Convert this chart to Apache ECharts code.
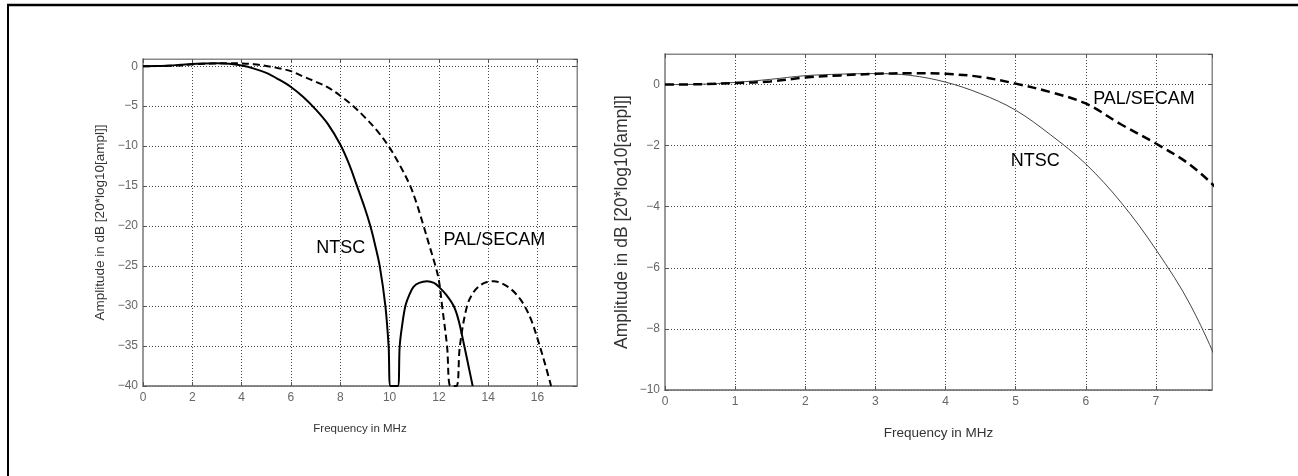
<!DOCTYPE html>
<html>
<head>
<meta charset="utf-8">
<script src="https://cdn.jsdelivr.net/npm/echarts@6/dist/echarts.min.js"></script>
<style>
  html, body { margin: 0; padding: 0; background: #fff; }
  #chart { width: 1298px; height: 476px; }
</style>
</head>
<body>
<div id="chart"></div>
<script>
// NTSC response (MHz, dB)
const freqNtsc = [0, 0.5, 1, 1.5, 2, 2.5, 3, 3.5, 4, 4.5, 5, 5.5, 6, 6.5, 7, 7.5, 8, 8.35, 8.68, 9,
  9.22, 9.4, 9.6, 9.83, 9.96, 10.04, 10.33, 10.41, 10.5, 10.64, 10.8, 10.97, 11.2, 11.52, 11.8,
  12, 12.3, 12.6, 12.8, 13.03, 13.2, 13.37];
const dbNtsc = [0, 0.01, 0.07, 0.17, 0.29, 0.34, 0.36, 0.3, 0.08, -0.3, -0.84, -1.65, -2.6, -3.85, -5.4, -7.25, -9.8, -12.2, -15, -17.8,
  -20, -22.2, -25, -30, -35, -40, -40, -35, -32.6, -30, -28.6, -27.6, -27.1, -26.9, -27.1,
  -27.6, -28.6, -30, -31.8, -35, -37.5, -40];

// PAL/SECAM response
const freqPal = [0, 0.5, 1, 1.5, 2, 2.5, 3, 3.5, 4, 4.5, 5, 5.5, 6, 6.5, 7, 7.5, 8,
  8.53, 9, 9.5, 9.96, 10.4, 10.84, 11.1, 11.38, 11.62, 11.86, 12, 12.13, 12.33, 12.47,
  12.71, 12.85, 13.14, 13.4, 13.68, 13.95, 14.22, 14.5, 14.8, 15.1, 15.44, 15.75, 16.05, 16.3, 16.55];
const dbPal = [0, 0.01, 0.05, 0.1, 0.23, 0.3, 0.35, 0.37, 0.35, 0.25, 0.03, -0.25, -0.62, -1.3, -1.93, -2.65, -3.7,
  -5, -6.4, -8.1, -10, -12.3, -15, -17.2, -20, -22.5, -25, -26.8, -30, -35, -40,
  -40, -35, -30, -28.3, -27.4, -27, -26.9, -27.1, -27.6, -28.4, -29.8, -31.8, -34.6, -37.2, -40];

// label anchors in data units [x, y]
const labelsLeft = { ntsc: [8.02, -22.75], pal: [14.25, -21.75] };
const labelsRight = { ntsc: [5.28, -2.49], pal: [6.83, -0.49] };

const zip = (xs, ys) => xs.map((x, i) => [x, ys[i]]);
const minus = (v) => String(v).replace('-', '\u2212');
const FONT = 'Liberation Sans';

const mainX = (grid, max, interval, nameSize, nameGap) => ({
  gridIndex: grid, type: 'value', position: 'bottom', min: 0, max, interval,
  name: 'Frequency in MHz', nameLocation: 'middle', nameGap,
  nameTextStyle: { fontFamily: FONT, fontSize: nameSize, color: '#333' },
  axisLine: { onZero: false, lineStyle: { color: '#777', width: 1.5 } },
  axisTick: { inside: true, length: 4, lineStyle: { color: '#555' } },
  axisLabel: { fontFamily: FONT, fontSize: 12, color: '#666', margin: 6, showMaxLabel: false, formatter: minus },
  splitLine: { show: true, lineStyle: { color: '#444', width: 1, type: [1, 2] } }
});
const mainY = (grid, min, max, interval, nameSize, nameGap) => ({
  gridIndex: grid, type: 'value', position: 'left', min, max, interval,
  name: 'Amplitude in dB [20*log10[ampl]]', nameLocation: 'middle', nameGap,
  nameTextStyle: { fontFamily: FONT, fontSize: nameSize, color: '#333' },
  axisLine: { onZero: false, lineStyle: { color: '#999', width: 2 } },
  axisTick: { inside: true, length: 4, lineStyle: { color: '#555' } },
  axisLabel: { fontFamily: FONT, fontSize: 12, color: '#666', margin: 5, showMaxLabel: false, formatter: minus },
  splitLine: { show: true, lineStyle: { color: '#444', width: 1, type: [1, 2] } }
});
// top / right axes only for the inward ticks
const sideAxis = (grid, position, min, max, interval) => ({
  gridIndex: grid, type: 'value', position, min, max, interval,
  axisLine: { show: true, onZero: false, lineStyle: { color: '#888', width: 1 } },
  axisTick: { inside: true, length: 4, lineStyle: { color: '#555' } },
  axisLabel: { show: false },
  splitLine: { show: false }
});

const textLabel = (coord, text, size) => ({
  silent: true,
  symbol: 'circle',
  symbolSize: 0,
  label: { show: true, position: 'inside', formatter: text, fontFamily: FONT, fontSize: size, color: '#000' },
  data: [{ coord }]
});

const lineSeries = (x, y, xs, ys, style, mark) => ({
  type: 'line', xAxisIndex: x, yAxisIndex: y,
  data: zip(xs, ys),
  showSymbol: false, smooth: 0.35,
  lineStyle: style,
  markPoint: mark,
  animation: false
});

const chart = echarts.init(document.getElementById('chart'));
chart.setOption({
  backgroundColor: '#fff',
  animation: false,
  grid: [
    { left: 143, top: 59, width: 434, height: 327, show: true, borderColor: '#888', borderWidth: 1 },
    { left: 665, top: 54, width: 547, height: 336, show: true, borderColor: '#888', borderWidth: 1 }
  ],
  xAxis: [
    mainX(0, 17.6, 2, 11.5, 37),
    sideAxis(0, 'top', 0, 17.6, 2),
    mainX(1, 7.8, 1, 13.5, 36),
    sideAxis(1, 'top', 0, 7.8, 1)
  ],
  yAxis: [
    mainY(0, -40, 0.9, 5, 13.5, 36),
    sideAxis(0, 'right', -40, 0.9, 5),
    mainY(1, -10, 1, 2, 17.5, 34),
    sideAxis(1, 'right', -10, 1, 2)
  ],
  series: [
    lineSeries(0, 0, freqNtsc, dbNtsc, { color: '#000', width: 2 }, textLabel(labelsLeft.ntsc, 'NTSC', 18)),
    lineSeries(0, 0, freqPal, dbPal, { color: '#000', width: 2, type: [7, 4] }, textLabel(labelsLeft.pal, 'PAL/SECAM', 18)),
    lineSeries(2, 2, freqNtsc, dbNtsc, { color: '#444', width: 1 }, textLabel(labelsRight.ntsc, 'NTSC', 18)),
    lineSeries(2, 2, freqPal, dbPal, { color: '#000', width: 2.5, type: [9, 5] }, textLabel(labelsRight.pal, 'PAL/SECAM', 18))
  ],
  graphic: [
    { type: 'line', silent: true, shape: { x1: 7, y1: 5, x2: 1298, y2: 5 }, style: { stroke: '#000', lineWidth: 2.5 } },
    { type: 'line', silent: true, shape: { x1: 8, y1: 4, x2: 8, y2: 476 }, style: { stroke: '#000', lineWidth: 2 } }
  ]
});
</script>
</body>
</html>
